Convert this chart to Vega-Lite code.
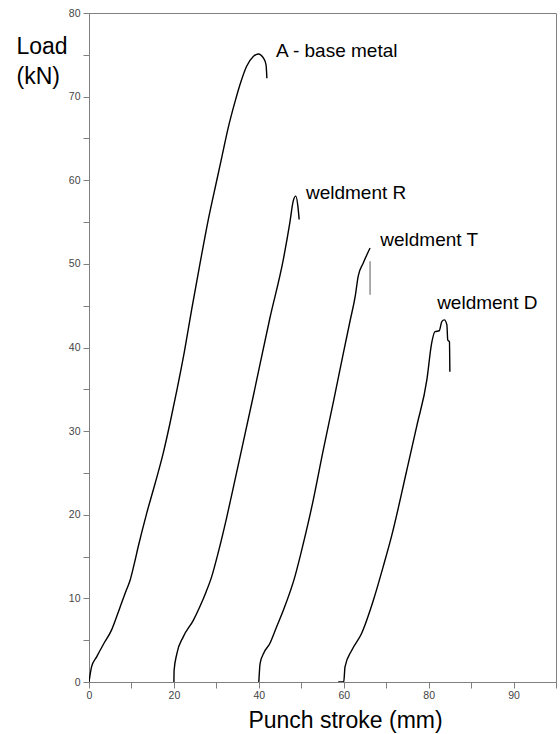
{
  "$schema": "https://vega.github.io/schema/vega-lite/v6.json",
  "width": 467,
  "height": 669,
  "autosize": "none",
  "padding": {"left": 89, "top": 13, "right": 4, "bottom": 52},
  "background": "white",
  "config": {
    "font": "Liberation Sans",
    "view": {"stroke": "#808080", "strokeWidth": 1},
    "axis": {
      "grid": false,
      "labelFont": "Liberation Sans",
      "labelFontSize": 10.5,
      "labelColor": "#444444",
      "domainColor": "#808080",
      "tickColor": "#808080",
      "tickSize": 6,
      "titleFont": "Liberation Sans",
      "titleFontWeight": "normal",
      "titleColor": "#000000",
      "titleFontSize": 23
    }
  },
  "datasets": {
    "curves": [
      {"s":"A","x":0,"y":0},{"s":"A","x":0.3,"y":1.0},{"s":"A","x":0.6,"y":1.8},{"s":"A","x":1.8,"y":3.0},{"s":"A","x":3.5,"y":4.6},{"s":"A","x":5.3,"y":6.2},{"s":"A","x":6.5,"y":7.8},{"s":"A","x":7.5,"y":9.2},{"s":"A","x":8.8,"y":11.0},{"s":"A","x":9.7,"y":12.2},{"s":"A","x":10.6,"y":14.0},{"s":"A","x":11.6,"y":16.2},{"s":"A","x":13.6,"y":20.2},{"s":"A","x":15.6,"y":23.8},{"s":"A","x":17.5,"y":27.4},{"s":"A","x":19.1,"y":31.0},{"s":"A","x":20.7,"y":34.9},{"s":"A","x":22.5,"y":39.6},{"s":"A","x":24.2,"y":44.6},{"s":"A","x":26.1,"y":49.9},{"s":"A","x":28.1,"y":55.3},{"s":"A","x":30.1,"y":60.0},{"s":"A","x":31.3,"y":62.8},{"s":"A","x":32.8,"y":66.3},{"s":"A","x":34.4,"y":69.4},{"s":"A","x":35.8,"y":71.8},{"s":"A","x":37.1,"y":73.6},{"s":"A","x":38.7,"y":74.8},{"s":"A","x":39.9,"y":75.1},{"s":"A","x":41.1,"y":74.6},{"s":"A","x":41.7,"y":73.8},{"s":"A","x":41.9,"y":72.2},
      {"s":"R","x":20,"y":0},{"s":"R","x":20.05,"y":1.4},{"s":"R","x":20.7,"y":3.4},{"s":"R","x":22.2,"y":5.4},{"s":"R","x":24.6,"y":7.4},{"s":"R","x":26.1,"y":9.0},{"s":"R","x":27.6,"y":10.8},{"s":"R","x":28.9,"y":12.6},{"s":"R","x":30.3,"y":15.2},{"s":"R","x":32.4,"y":19.6},{"s":"R","x":34.4,"y":24.2},{"s":"R","x":36.0,"y":27.9},{"s":"R","x":38.7,"y":34.2},{"s":"R","x":42.6,"y":43.5},{"s":"R","x":45.8,"y":50.6},{"s":"R","x":47.3,"y":54.9},{"s":"R","x":48.1,"y":57.5},{"s":"R","x":48.7,"y":58.1},{"s":"R","x":49.2,"y":56.9},{"s":"R","x":49.5,"y":55.3},
      {"s":"T","x":40,"y":0},{"s":"T","x":40.3,"y":2.2},{"s":"T","x":41.2,"y":3.5},{"s":"T","x":42.6,"y":4.6},{"s":"T","x":44.2,"y":6.6},{"s":"T","x":45.8,"y":8.6},{"s":"T","x":48.5,"y":12.6},{"s":"T","x":50.5,"y":16.6},{"s":"T","x":52.5,"y":21.0},{"s":"T","x":55.2,"y":27.8},{"s":"T","x":57.6,"y":33.6},{"s":"T","x":59.9,"y":39.3},{"s":"T","x":61.5,"y":43.2},{"s":"T","x":62.7,"y":46.1},{"s":"T","x":63.4,"y":48.5},{"s":"T","x":64.6,"y":50.1},{"s":"T","x":66.2,"y":51.9},
      {"s":"Tdrop","x":66.2,"y":50.3},{"s":"Tdrop","x":66.2,"y":46.3},
      {"s":"D","x":58.7,"y":0},{"s":"D","x":60.0,"y":0},{"s":"D","x":60.3,"y":1.8},{"s":"D","x":61.9,"y":3.8},{"s":"D","x":64.2,"y":5.8},{"s":"D","x":67.0,"y":9.8},{"s":"D","x":69.3,"y":13.8},{"s":"D","x":71.3,"y":17.5},{"s":"D","x":74.8,"y":25.2},{"s":"D","x":77.2,"y":30.6},{"s":"D","x":79.6,"y":36.2},{"s":"D","x":80.7,"y":40.5},{"s":"D","x":81.5,"y":41.9},{"s":"D","x":82.5,"y":42.0},{"s":"D","x":83.1,"y":43.1},{"s":"D","x":83.7,"y":43.3},{"s":"D","x":84.3,"y":42.7},{"s":"D","x":84.5,"y":40.9},{"s":"D","x":84.9,"y":40.7},{"s":"D","x":85.0,"y":37.1}
    ],
    "labels": [
      {"label":"A - base metal","x":44.05,"y":75.4},
      {"label":"weldment R","x":51.1,"y":58.5},
      {"label":"weldment T","x":68.6,"y":52.9},
      {"label":"weldment D","x":82.0,"y":45.3}
    ]
  },
  "layer": [
    {
      "data": {"name": "curves"},
      "mark": {"type": "line", "strokeWidth": 1.4, "clip": true, "interpolate": "monotone"},
      "encoding": {
        "x": {
          "field": "x", "type": "quantitative",
          "scale": {"domain": [0, 110], "nice": false, "zero": false},
          "axis": {
            "values": [0,10,20,30,40,50,60,70,80,90,100,110],
            "labelExpr": "datum.value == 100 ? '90' : (datum.value % 20 == 0 && datum.value <= 80 ? datum.label : '')",
            "labelOverlap": false,
            "labelPadding": 2,
            "labelFlush": false,
            "title": "Punch stroke (mm)",
            "titleX": 256,
            "titleY": 45,
            "titleAlign": "center",
            "titleBaseline": "alphabetic"
          }
        },
        "y": {
          "field": "y", "type": "quantitative",
          "scale": {"domain": [0, 80], "nice": false},
          "axis": {
            "values": [0,5,10,15,20,25,30,35,40,45,50,55,60,65,70,75,80],
            "labelExpr": "datum.value % 10 == 0 ? datum.label : ''",
            "labelOverlap": false,
            "labelPadding": 3,
            "labelFlush": false,
            "title": ["Load", "(kN)"],
            "titleAngle": 0,
            "titleAlign": "left",
            "titleBaseline": "alphabetic",
            "titleX": -73,
            "titleY": 40,
            "titleLineHeight": 30
          }
        },
        "detail": {"field": "s"},
        "color": {
          "field": "s", "type": "nominal",
          "scale": {"domain": ["A","R","T","Tdrop","D"], "range": ["#000000","#000000","#000000","#888888","#000000"]},
          "legend": null
        }
      }
    },
    {
      "data": {"name": "labels"},
      "mark": {"type": "text", "align": "left", "baseline": "middle", "fontSize": 19, "font": "Liberation Sans", "color": "#000000"},
      "encoding": {
        "x": {"field": "x", "type": "quantitative"},
        "y": {"field": "y", "type": "quantitative"},
        "text": {"field": "label"}
      }
    }
  ]
}
